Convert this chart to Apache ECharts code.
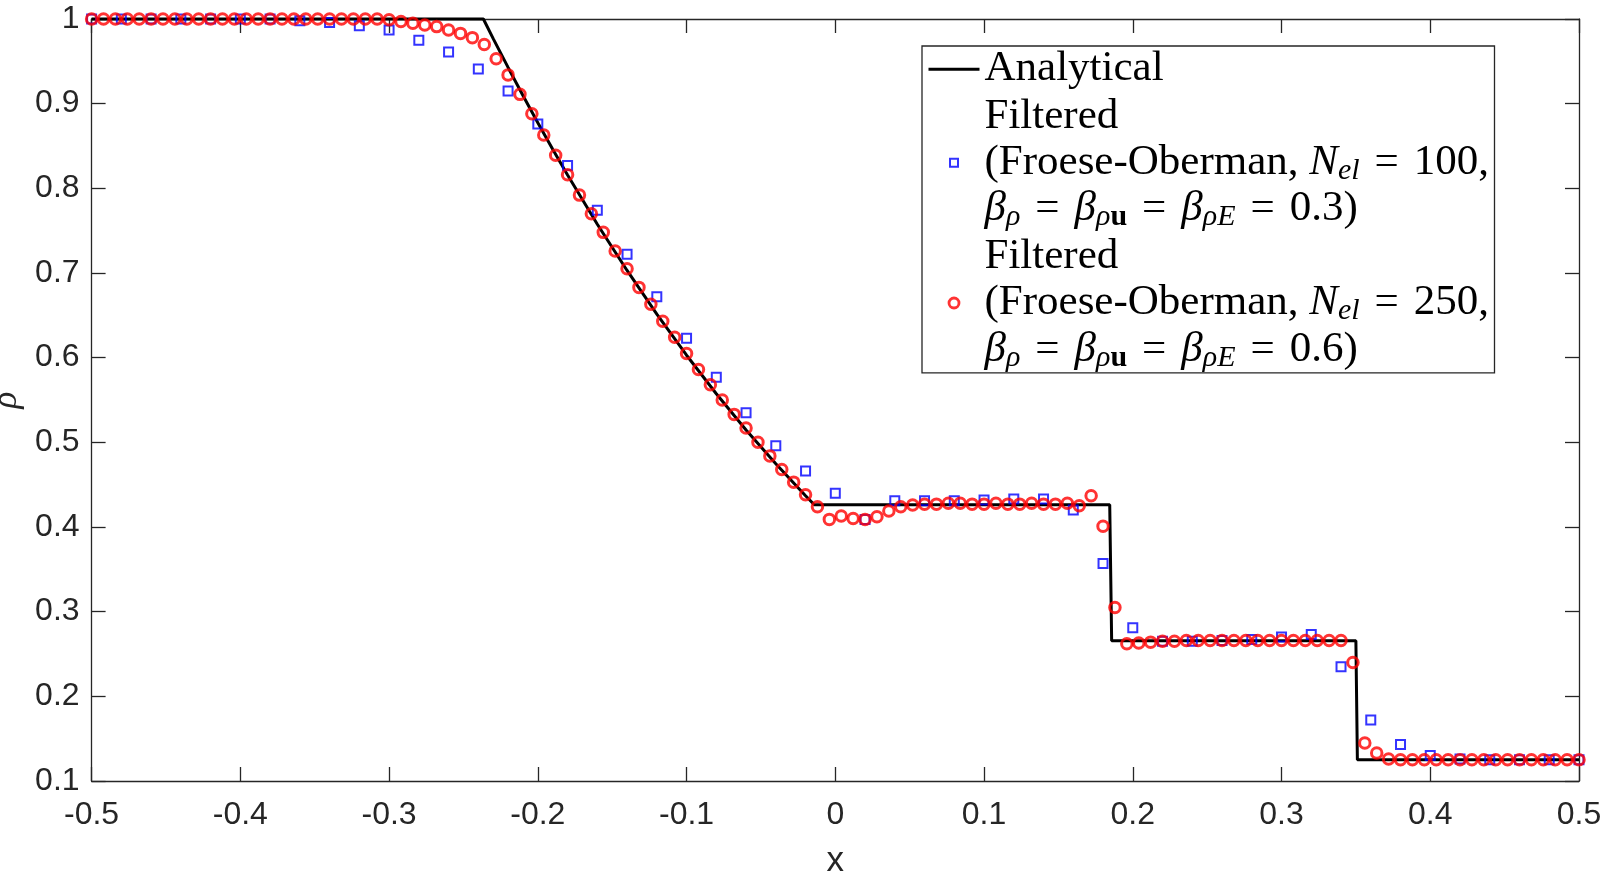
<!DOCTYPE html>
<html>
<head>
<meta charset="utf-8">
<script src="https://cdn.jsdelivr.net/npm/echarts@6/dist/echarts.min.js"></script>
<style>html,body{margin:0;padding:0;background:#fff}#c{width:1606px;height:878px}</style>
</head>
<body>
<div id="c"></div>
<script>
// ---------- data ----------
const analyticalX = [-0.5, -0.2366, -0.23, -0.22, -0.21, -0.2, -0.19, -0.18, -0.16, -0.14, -0.12, -0.1, -0.08, -0.06, -0.04, -0.02, -0.0141, 0.1845, 0.1858, 0.3500, 0.3510, 0.5];
const analyticalY = [1, 1, 0.9768, 0.9428, 0.9096, 0.8775, 0.8462, 0.8158, 0.7576, 0.7030, 0.6514, 0.6029, 0.5574, 0.5146, 0.4746, 0.4370, 0.4263, 0.4263, 0.2656, 0.2656, 0.125, 0.125];

const coarseX = [-0.5, -0.48, -0.46, -0.44, -0.42, -0.4, -0.38, -0.36, -0.34, -0.32, -0.3, -0.28, -0.26, -0.24, -0.22, -0.2, -0.18, -0.16, -0.14, -0.12, -0.1, -0.08, -0.06, -0.04, -0.02, 0, 0.02, 0.04, 0.06, 0.08, 0.1, 0.12, 0.14, 0.16, 0.18, 0.2, 0.22, 0.24, 0.26, 0.28, 0.3, 0.32, 0.34, 0.36, 0.38, 0.4, 0.42, 0.44, 0.46, 0.48, 0.5];
const coarseY = [1, 1, 1, 1, 1, 1, 1, 0.998, 0.996, 0.992, 0.987, 0.975, 0.961, 0.941, 0.915, 0.876, 0.827, 0.774, 0.722, 0.672, 0.623, 0.577, 0.535, 0.496, 0.466, 0.440, 0.409, 0.431, 0.431, 0.431, 0.432, 0.433, 0.433, 0.420, 0.357, 0.281, 0.265, 0.265, 0.266, 0.267, 0.270, 0.273, 0.235, 0.172, 0.143, 0.130, 0.126, 0.125, 0.125, 0.125, 0.125];

const fineX = [-0.5, -0.492, -0.484, -0.476, -0.468, -0.46, -0.452, -0.444, -0.436, -0.428, -0.42, -0.412, -0.404, -0.396, -0.388, -0.38, -0.372, -0.364, -0.356, -0.348, -0.34, -0.332, -0.324, -0.316, -0.308, -0.3, -0.292, -0.284, -0.276, -0.268, -0.26, -0.252, -0.244, -0.236, -0.228, -0.22, -0.212, -0.204, -0.196, -0.188, -0.18, -0.172, -0.164, -0.156, -0.148, -0.14, -0.132, -0.124, -0.116, -0.108, -0.1, -0.092, -0.084, -0.076, -0.068, -0.06, -0.052, -0.044, -0.036, -0.028, -0.02, -0.012, -0.004, 0.004, 0.012, 0.02, 0.028, 0.036, 0.044, 0.052, 0.06, 0.068, 0.076, 0.084, 0.092, 0.1, 0.108, 0.116, 0.124, 0.132, 0.14, 0.148, 0.156, 0.164, 0.172, 0.18, 0.188, 0.196, 0.204, 0.212, 0.22, 0.228, 0.236, 0.244, 0.252, 0.26, 0.268, 0.276, 0.284, 0.292, 0.3, 0.308, 0.316, 0.324, 0.332, 0.34, 0.348, 0.356, 0.364, 0.372, 0.38, 0.388, 0.396, 0.404, 0.412, 0.42, 0.428, 0.436, 0.444, 0.452, 0.46, 0.468, 0.476, 0.484, 0.492, 0.5];
const fineY = [1, 1, 1, 1, 1, 1, 1, 1, 1, 1, 1, 1, 1, 1, 1, 1, 1, 1, 1, 1, 1, 1, 1, 1, 1,
  0.999, 0.997, 0.995, 0.993, 0.991, 0.987, 0.983, 0.978, 0.970, 0.953, 0.934, 0.911, 0.888, 0.863, 0.839, 0.816, 0.792, 0.770, 0.748, 0.726,
  0.705, 0.683, 0.663, 0.643, 0.624, 0.605, 0.586, 0.568, 0.550, 0.533, 0.517, 0.500, 0.484, 0.468, 0.453, 0.438, 0.424, 0.409, 0.413, 0.410,
  0.409, 0.412, 0.419, 0.424, 0.426, 0.427, 0.427, 0.428, 0.428, 0.427, 0.427, 0.428, 0.427, 0.427, 0.428, 0.427, 0.427, 0.428, 0.425, 0.437,
  0.401, 0.305, 0.262, 0.263, 0.264, 0.265, 0.265,
  0.266, 0.266, 0.266, 0.266, 0.266, 0.266, 0.266, 0.266, 0.266, 0.266, 0.266, 0.266, 0.266, 0.266,
  0.240, 0.145, 0.133, 0.126,
  0.125, 0.125, 0.125, 0.125, 0.125, 0.125, 0.125, 0.125, 0.125, 0.125, 0.125, 0.125, 0.125, 0.125, 0.125, 0.125];

const seriesNames = ['Analytical', 'Filtered N100', 'Filtered N250'];
const xTickMin = -0.5, xTickMax = 0.5, xTickStep = 0.1;
const yTickMin = 0.1, yTickMax = 1, yTickStep = 0.1;

// ---------- chart ----------
const sans = "'Liberation Sans', Arial, sans-serif";
const serif = "'Liberation Serif', 'DejaVu Serif', serif";
const LH = 46.3;
const axisColor = '#262626';

function pairs(xs, ys) { return xs.map((x, i) => [x, ys[i]]); }

const legendText = {
  'Analytical': '{t|Analytical}',
  'Filtered N100': '{t|Filtered}\n{t|(Froese-Oberman, }{i|N}{s|el}{eq|=}{t|100,}\n{i|β}{s|ρ}{eq|=}{i|β}{s|ρ}{sb|u}{eq|=}{i|β}{s|ρE}{eq|=}{t|0.3)}',
  'Filtered N250': '{t|Filtered}\n{t|(Froese-Oberman, }{i|N}{s|el}{eq|=}{t|250,}\n{i|β}{s|ρ}{eq|=}{i|β}{s|ρ}{sb|u}{eq|=}{i|β}{s|ρE}{eq|=}{t|0.6)}'
};

const chart = echarts.init(document.getElementById('c'), null, { renderer: 'canvas' });

function xAxisCfg(pos, showLabel) {
  return {
    type: 'value', position: pos, min: xTickMin, max: xTickMax, interval: xTickStep,
    axisLine: { show: true, onZero: false, lineStyle: { color: axisColor, width: 1.3 } },
    axisTick: { show: true, inside: true, length: 14, lineStyle: { color: axisColor, width: 1.3 } },
    axisLabel: { show: showLabel, color: axisColor, fontFamily: sans, fontSize: 32, margin: 18 },
    splitLine: { show: false }
  };
}
function yAxisCfg(pos, showLabel) {
  return {
    type: 'value', position: pos, min: yTickMin, max: yTickMax, interval: yTickStep,
    axisLine: { show: true, onZero: false, lineStyle: { color: axisColor, width: 1.3 } },
    axisTick: { show: true, inside: true, length: 14, lineStyle: { color: axisColor, width: 1.3 } },
    axisLabel: { show: showLabel, color: axisColor, fontFamily: sans, fontSize: 32, margin: 12 },
    splitLine: { show: false }
  };
}

const xBottom = xAxisCfg('bottom', true);
xBottom.name = 'x';
xBottom.nameLocation = 'middle';
xBottom.nameGap = 63;
xBottom.nameTextStyle = { color: axisColor, fontFamily: sans, fontSize: 35 };
const yLeft = yAxisCfg('left', true);
yLeft.name = 'ρ';
yLeft.nameLocation = 'middle';
yLeft.nameGap = 48;
yLeft.nameRotate = 90;
yLeft.nameTextStyle = { color: axisColor, fontFamily: serif, fontStyle: 'italic', fontSize: 35 };

const option = {
  animation: false,
  backgroundColor: '#ffffff',
  grid: { left: 91.6, right: 27, top: 19, bottom: 97, containLabel: false, outerBoundsMode: 'none' },
  xAxis: [xBottom, xAxisCfg('top', false)],
  yAxis: [yLeft, yAxisCfg('right', false)],
  legend: {
    orient: 'vertical', align: 'left', left: 922, top: 46, z: 10,
    padding: [0, 5, 0, 5], itemGap: 1, itemWidth: 51, itemHeight: 10,
    backgroundColor: '#ffffff', borderColor: axisColor, borderWidth: 1.3,
    selectedMode: false,
    data: [
      { name: seriesNames[0], lineStyle: { color: '#000', width: 3 }, itemStyle: { color: 'transparent', borderColor: 'transparent', borderWidth: 0, opacity: 0 } },
      { name: seriesNames[1], icon: 'path://M0,0 M10,10 M1,1 L9,1 L9,9 L1,9 Z', itemStyle: { color: 'transparent', borderColor: '#0000ff', borderWidth: 2 } },
      { name: seriesNames[2], icon: 'circle', itemStyle: { color: 'transparent', borderColor: '#ff0000', borderWidth: 2.8 } }
    ],
    formatter: function (name) { return legendText[name]; },
    textStyle: {
      width: 505, lineHeight: LH, fontFamily: serif, fontSize: 43, color: '#000',
      rich: {
        t: { fontFamily: serif, fontSize: 43, lineHeight: LH, color: '#000' },
        i: { fontFamily: serif, fontSize: 43, fontStyle: 'italic', lineHeight: LH, color: '#000' },
        s: { fontFamily: serif, fontSize: 30, fontStyle: 'italic', lineHeight: LH, padding: [17, 0, 0, 0], color: '#000' },
        sb: { fontFamily: serif, fontSize: 30, fontWeight: 'bold', lineHeight: LH, padding: [17, 0, 0, 0], color: '#000' },
        eq: { fontFamily: serif, fontSize: 43, lineHeight: LH, padding: [0, 15, 0, 15], color: '#000' }
      }
    }
  },
  series: [
    {
      name: seriesNames[0], type: 'line', xAxisIndex: 0, yAxisIndex: 0, z: 2,
      data: pairs(analyticalX, analyticalY), showSymbol: false, symbol: 'none', clip: false,
      lineStyle: { color: '#000000', width: 3 }
    },
    {
      name: seriesNames[1], type: 'scatter', xAxisIndex: 0, yAxisIndex: 0, z: 3,
      data: pairs(coarseX, coarseY), symbol: 'rect', symbolSize: 9, clip: false,
      itemStyle: { color: 'transparent', borderColor: '#0000ff', borderWidth: 2 }
    },
    {
      name: seriesNames[2], type: 'scatter', xAxisIndex: 0, yAxisIndex: 0, z: 4,
      data: pairs(fineX, fineY), symbol: 'circle', symbolSize: 10.5, clip: false,
      itemStyle: { color: 'transparent', borderColor: '#ff0000', borderWidth: 3 }
    }
  ]
};
chart.setOption(option);
</script>
</body>
</html>
